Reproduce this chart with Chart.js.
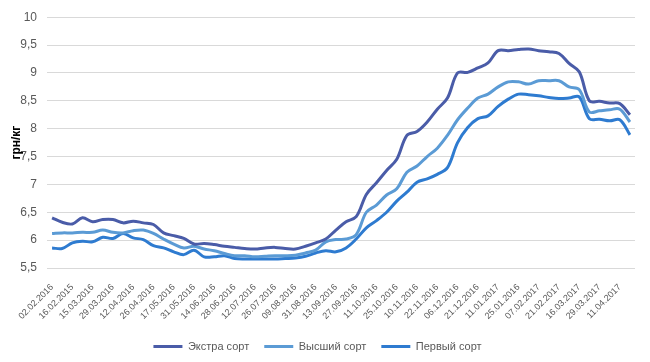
<!DOCTYPE html>
<html>
<head>
<meta charset="utf-8">
<script src="https://cdn.jsdelivr.net/npm/chart.js@4/dist/chart.umd.min.js"></script>
<style>
  html, body { margin: 0; padding: 0; background: #fff; }
  #wrap { width: 650px; height: 362px; position: relative; }
</style>
</head>
<body>
<div id="wrap"><canvas id="chart"></canvas></div>
<script>
// x-axis labels shown on every second point
const tickLabels = [
    '02.02.2016', '16.02.2015', '15.03.2016', '29.03.2016', '12.04.2016', '26.04.2016',
    '17.05.2016', '31.05.2016', '14.06.2016', '28.06.2016', '12.07.2016', '26.07.2016',
    '09.08.2016', '31.08.2016', '13.09.2016', '27.09.2016', '11.10.2016', '25.10.2016',
    '10.11.2016', '22.11.2016', '06.12.2016', '21.12.2016', '11.01.2017', '25.01.2016',
    '07.02.2017', '21.02.2017', '16.03.2017', '29.03.2017', '11.04.2017'
];

const seriesNames = ['Экстра сорт', 'Высший сорт', 'Первый сорт'];
const seriesColors = ['#4a5ca8', '#5b9bd5', '#2e7bd0'];

const extra = [
    6.40, 6.32, 6.29, 6.40, 6.33, 6.37, 6.37, 6.31, 6.34, 6.31,
    6.28, 6.13, 6.08, 6.03, 5.93, 5.94, 5.92, 5.89, 5.87, 5.85,
    5.84, 5.86, 5.87, 5.85, 5.84, 5.89, 5.95, 6.02, 6.18, 6.33,
    6.42, 6.82, 7.03, 7.25, 7.45, 7.88, 7.95, 8.12, 8.35, 8.55,
    9.00, 9.01, 9.09, 9.18, 9.40, 9.40, 9.42, 9.43, 9.40, 9.38,
    9.35, 9.17, 9.02, 8.50, 8.49, 8.46, 8.45, 8.25
];
const highest = [
    6.12, 6.13, 6.13, 6.14, 6.14, 6.18, 6.14, 6.13, 6.17, 6.18,
    6.12, 6.02, 5.93, 5.86, 5.89, 5.84, 5.81, 5.76, 5.72, 5.72,
    5.70, 5.71, 5.72, 5.72, 5.73, 5.77, 5.82, 5.97, 6.01, 6.02,
    6.10, 6.50, 6.63, 6.81, 6.92, 7.22, 7.33, 7.50, 7.65, 7.88,
    8.16, 8.37, 8.55, 8.62, 8.75, 8.84, 8.84, 8.80, 8.86, 8.86,
    8.86, 8.75, 8.70, 8.30, 8.32, 8.34, 8.35, 8.12
];
const first = [
    5.86, 5.85, 5.95, 5.98, 5.97, 6.05, 6.03, 6.12, 6.04, 6.01,
    5.90, 5.86, 5.79, 5.74, 5.82, 5.70, 5.70, 5.72, 5.67, 5.66,
    5.66, 5.66, 5.66, 5.67, 5.68, 5.71, 5.77, 5.81, 5.79, 5.86,
    6.02, 6.22, 6.35, 6.50, 6.70, 6.86, 7.04, 7.10, 7.18, 7.30,
    7.75, 8.02, 8.18, 8.23, 8.40, 8.53, 8.62, 8.61, 8.59, 8.56,
    8.54, 8.55, 8.57, 8.18, 8.17, 8.14, 8.16, 7.89
];

const categories = extra.map((v, i) => (i % 2 === 0 ? (tickLabels[i / 2] || '') : ''));

const gray = '#595959';
const fontFamily = '"Liberation Sans", Arial, sans-serif';

const ctx = document.getElementById('chart').getContext('2d');
const chart = new Chart(ctx, {
    type: 'line',
    data: {
        labels: categories,
        datasets: [extra, highest, first].map((d, i) => ({
            label: seriesNames[i],
            data: d,
            borderColor: seriesColors[i],
            backgroundColor: seriesColors[i],
            borderWidth: 3,
            pointRadius: 0,
            tension: 0.35,
            fill: false
        }))
    },
    options: {
        responsive: true,
        maintainAspectRatio: false,
        animation: false,
        layout: { padding: { top: 10, right: 15, left: 0, bottom: 0 } },
        plugins: {
            tooltip: { enabled: false },
            legend: {
                position: 'bottom',
                labels: {
                    usePointStyle: true,
                    pointStyle: 'line',
                    pointStyleWidth: 29,
                    padding: 15,
                    color: gray,
                    font: { family: fontFamily, size: 11 }
                }
            }
        },
        scales: {
            x: {
                offset: true,
                grid: { display: false },
                border: { display: false },
                ticks: {
                    autoSkip: false,
                    minRotation: 45,
                    maxRotation: 45,
                    padding: 6,
                    color: gray,
                    font: { family: fontFamily, size: 9 }
                },
                afterFit: s => { s.height = 58; }
            },
            y: {
                min: 5.5,
                max: 10,
                border: { display: false },
                grid: { color: '#d9d9d9', drawTicks: false },
                ticks: {
                    stepSize: 0.5,
                    padding: 10,
                    color: gray,
                    font: { family: fontFamily, size: 12 },
                    callback: v => String(v).replace('.', ',')
                },
                title: {
                    display: true,
                    text: 'грн/кг',
                    color: '#000',
                    padding: { top: 9, bottom: 0 },
                    font: { family: fontFamily, size: 12, weight: 'bold' }
                },
                afterFit: s => { s.width = 47; }
            }
        }
    }
});
</script>
</body>
</html>
